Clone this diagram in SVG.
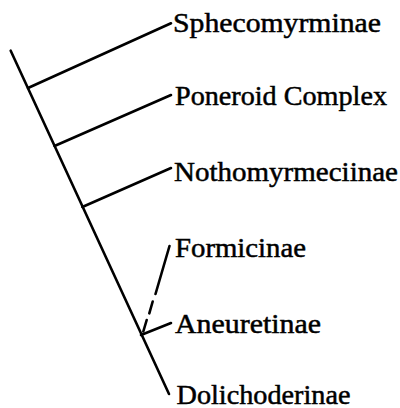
<svg xmlns="http://www.w3.org/2000/svg" width="400" height="408" viewBox="0 0 400 408">
<style>
.e{stroke:#000;stroke-width:2.6;fill:none;stroke-linecap:round}
.t{font-family:"Liberation Serif","Times New Roman",serif;font-size:28px;fill:#000;stroke:#000;stroke-width:0.5}
</style>
<rect width="400" height="408" fill="#fff"/>
<g id="connectors">
<line class="e" x1="10.7" y1="50.7" x2="169" y2="394"/>
<line class="e" x1="28" y1="88" x2="171" y2="23.3"/>
<line class="e" x1="54.5" y1="146" x2="171" y2="95"/>
<line class="e" x1="82.3" y1="207" x2="171" y2="168"/>
<line class="e" x1="141" y1="335" x2="171" y2="323"/>
<path class="e" d="M169.5,246 L155.5,294 M152.7,301.5 L149.3,313.3 M146.7,320 L143.3,331.5"/>
</g>
<g id="sphecomyrminae"><text class="t" x="173" y="32" textLength="208" lengthAdjust="spacingAndGlyphs">Sphecomyrminae</text></g>
<g id="poneroid"><text class="t" x="175" y="104.5" textLength="212" lengthAdjust="spacingAndGlyphs">Poneroid Complex</text></g>
<g id="nothomyrmeciinae"><text class="t" x="174" y="180.5" textLength="224" lengthAdjust="spacingAndGlyphs">Nothomyrmeciinae</text></g>
<g id="formicinae"><text class="t" x="175" y="257" textLength="131" lengthAdjust="spacingAndGlyphs">Formicinae</text></g>
<g id="aneuretinae"><text class="t" x="175" y="333" textLength="146" lengthAdjust="spacingAndGlyphs">Aneuretinae</text></g>
<g id="dolichoderinae"><text class="t" x="176.5" y="403.5" textLength="174" lengthAdjust="spacingAndGlyphs">Dolichoderinae</text></g>
</svg>
